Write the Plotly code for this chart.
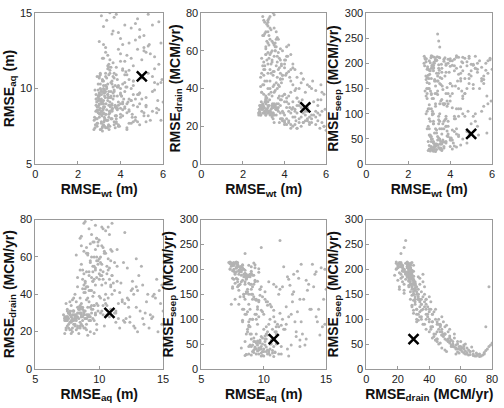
import plotly.graph_objects as go

# Ensemble of calibration runs (one value per run)
rmse_wt = [
 4.1,4.6,5.2,3.9,4.4,5.7,3.8,4.9,5.5,4.2,3.75,4.7,5.9,4.0,5.0,4.3,5.3,4.8,3.85,5.6,4.5,6.0,4.0,5.1,4.6,
 2.8,3.0,3.2,2.9,3.1,3.4,3.3,2.75,3.6,3.0,3.5,2.85,3.2,3.7,2.95,3.15,3.4,3.05,3.8,2.8,3.3,3.6,3.1,2.9,3.45,
 3.25,3.0,3.55,2.85,3.35,3.9,3.15,2.78,3.7,3.4,3.05,3.2,2.95,3.5,3.1,3.65,3.0,3.3,2.9,3.45,
 4.3,4.9,5.4,4.6,5.8,4.1,5.2,4.4,5.6,4.8,4.0,5.95,4.7,5.1,4.2,
 3.1,3.4,2.9,3.7,3.2,4.0,3.5,3.0,3.8,4.5,3.3,4.2,2.85,3.6,5.0,3.15,4.7,3.9,5.3,3.25,4.4,3.55,5.6,3.05,4.1,
 5.9,3.45,4.8,3.75,5.5,2.95,4.3,3.35,5.2,4.6,3.65,4.9,3.2,4.0,5.75,3.85,3.1,4.55,5.35,3.5,
 3.0,3.3,3.6,2.9,3.8,4.2,3.2,4.6,3.5,3.1,4.0,2.85,3.4,4.8,3.7,3.05,4.4,3.25,3.9,3.45,4.1,2.95,3.55,4.9,3.15,
 3.75,4.3,3.35,3.0,3.65,4.5,3.2,3.85,2.9,4.05,
 3.1,3.4,3.0,3.6,3.3,3.2,3.5,2.95,3.7,3.15,3.45,3.8,3.05,3.25,3.55,4.1,3.35,3.0,3.65,3.2,3.9,3.5,3.1,4.2,
 3.4,3.5,3.45,3.3,3.2,
 3.1,3.6,4.2,3.3,4.9,3.8,5.4,3.0,4.5,5.8,3.5,4.0,5.1,3.2,
 2.82,3.12,3.38,2.98,3.22,3.48,2.88,3.08,3.58,3.28,2.76,3.18,3.42,3.02,3.32,2.92,3.52,3.14,3.24,2.86,
 3.44,3.06,3.36,2.96,3.62,3.16,3.26,2.84,3.46,3.1,
 3.6,3.9,4.2,4.5,4.8,5.1,3.7,4.0,4.3,4.6,4.9,5.3,3.8,4.1,4.4,4.7,5.0,5.5,3.95,4.25,4.55,4.85,5.2,5.7,4.35,
 3.05,3.3,3.55,3.8,4.05,4.3,3.15,3.4,3.65,3.9,4.15,4.4,2.95,3.25,3.5,3.75,4.0,4.25,3.1,3.35,3.6,3.85,4.1,3.2,3.45,
 3.0,3.2,3.4,3.6,3.8,3.1,3.3,3.5,3.7,2.9,3.15,3.35,3.55,3.75,3.05,3.25,3.45,3.65,3.85,3.2,
 4.4,5.2,3.9,5.8,4.7,5.5,4.1,5.0,3.7,5.9,4.6,5.3,4.3,5.6,4.9,3.8,5.1,4.5,5.75,4.0,
]
rmse_aq = [
 8.2,7.8,8.9,7.5,9.3,8.4,8.0,7.6,9.8,8.7,7.4,8.1,7.9,9.0,8.5,7.3,12.8,14.6,8.6,10.4,7.7,9.1,8.3,13.5,9.6,
 7.4,8.1,7.6,8.8,9.2,7.9,8.3,7.3,8.6,9.7,7.5,8.0,9.0,7.8,8.4,7.2,9.4,8.7,8.2,9.9,7.4,10.3,8.5,7.7,8.9,
 7.5,10.8,8.0,9.3,7.9,9.1,8.3,8.1,7.6,11.5,7.3,8.8,9.5,8.4,7.8,9.7,8.6,12.4,7.5,8.1,
 8.4,9.0,7.9,10.2,8.6,11.3,9.4,7.7,12.1,8.8,9.6,10.6,13.2,8.2,10.9,
 8.5,9.2,8.0,9.8,10.5,8.7,11.2,9.0,7.8,10.0,8.3,11.8,9.6,8.9,10.7,12.0,9.3,10.2,11.0,7.9,13.0,9.5,9.9,10.9,8.6,
 10.4,11.6,12.6,8.2,14.2,9.4,9.0,10.1,8.8,11.5,13.8,9.7,8.4,12.3,9.2,10.6,7.7,8.1,12.9,9.1,
 9.5,10.2,9.0,10.8,11.4,9.8,8.7,10.5,11.9,9.3,10.0,8.9,12.2,9.6,10.7,11.0,8.5,9.9,12.6,8.3,11.2,10.3,9.4,13.4,10.6,
 8.8,10.9,14.5,9.7,11.7,9.2,12.9,10.1,8.6,9.5,
 9.0,10.3,9.6,8.5,10.8,9.2,11.0,8.8,9.9,10.5,9.4,8.2,10.0,9.7,11.4,9.1,8.6,10.7,9.3,12.0,10.1,8.9,9.8,10.4,
 11.3,8.5,9.8,11.0,10.2,
 14.8,13.6,14.2,12.7,13.9,14.9,12.3,13.1,12.0,14.4,15.0,13.3,12.5,14.1,
 7.6,8.2,7.4,8.9,7.8,8.5,9.1,7.3,8.0,9.4,7.9,8.6,7.5,8.3,9.0,7.7,8.8,7.4,8.1,9.3,
 7.6,8.4,7.9,9.2,8.7,7.5,8.0,8.5,7.3,9.6,
 8.0,7.6,8.8,9.2,7.8,8.4,9.5,8.1,7.4,8.9,9.7,8.2,7.7,9.0,8.6,7.9,9.3,8.5,7.5,10.1,8.3,9.6,7.8,8.7,9.1,
 9.2,9.8,10.4,8.7,9.5,10.1,9.0,9.6,10.8,8.9,9.3,10.6,9.9,8.8,9.4,10.2,9.7,11.1,9.1,10.0,8.6,9.5,10.3,9.8,10.9,
 9.3,10.0,9.6,10.5,8.8,9.9,10.2,9.4,11.0,8.5,9.1,10.7,9.8,8.9,10.3,9.5,11.4,10.1,8.7,9.7,
 11.2,12.4,13.7,11.6,14.3,10.8,12.9,11.9,14.7,13.0,10.5,14.9,12.2,11.3,13.4,10.9,12.7,14.0,10.3,11.8,
]
rmse_drain = [
 21,19,22,23,20,19,24,22,21,23,22,24,20,21,23,19,22,20,24,23,21,18,22,24,19,
 28,27,30,29,26,31,28,27,29,30,26,31,27,28,32,29,30,28,27,31,26,29,32,30,27,
 28,30,31,26,29,28,33,29,30,27,28,31,27,32,26,29,30,28,31,27,
 27,29,26,31,28,30,32,25,27,30,26,29,31,28,32,
 34,36,38,35,40,33,42,37,34,39,44,36,41,43,38,35,33,45,40,37,42,39,34,44,35,
 37,41,43,36,39,42,44,38,41,35,40,45,33,37,42,34,36,40,44,38,
 47,50,52,48,55,49,53,46,57,58,51,46,54,48,59,50,53,56,47,49,57,52,60,45,55,
 51,58,48,54,46,50,59,53,56,47,
 62,65,68,70,72,75,63,78,66,74,80,61,69,77,64,62,71,76,67,73,60,79,70,63,
 25,22,24,78,76,
 35,30,28,40,22,45,33,50,25,38,31,55,42,27,
 27,29,26,31,28,30,33,27,29,34,26,28,32,30,27,29,31,35,28,26,
 30,33,27,29,32,28,31,30,26,34,
 26,24,22,28,25,30,32,23,21,27,29,26,31,24,33,22,28,25,27,30,23,34,21,26,29,
 52,58,62,48,55,50,65,60,54,47,57,51,68,63,49,56,53,46,61,59,66,52,48,70,64,
 42,48,55,62,45,58,66,72,50,38,44,53,60,41,75,68,47,57,43,64,
 30,25,36,22,40,28,33,26,42,20,35,24,38,31,27,45,23,29,34,37,
]
rmse_seep = [
 205,212,190,208,178,200,196,214,165,185,211,170,207,160,198,215,182,203,152,175,193,188,209,158,201,
 210,205,196,188,213,175,208,200,182,160,211,168,192,204,150,214,138,185,199,145,206,128,110,172,190,
 212,118,158,203,180,140,98,195,208,165,201,130,176,120,215,148,186,155,162,197,
 190,170,205,135,180,112,100,212,168,150,194,125,140,198,95,
 170,145,130,118,100,160,85,150,182,110,120,90,135,70,80,105,140,60,75,165,95,125,115,58,155,
 90,80,65,175,105,110,70,140,85,100,120,55,185,135,62,125,190,145,58,100,
 90,70,60,105,45,65,80,50,40,55,35,100,48,42,32,85,55,62,75,95,30,75,40,60,50,
 88,34,68,58,80,38,45,66,70,52,
 45,38,30,27,25,33,50,45,35,28,52,42,26,40,30,48,29,37,44,26,55,48,32,36,
 258,232,244,165,85,
 140,170,195,115,210,90,150,70,180,120,160,48,95,190,
 208,195,213,170,202,186,150,211,198,140,214,190,165,178,205,193,172,130,200,209,
 180,145,206,188,155,197,168,175,212,138,
 190,200,208,170,195,150,120,205,212,185,160,188,140,196,110,210,175,192,182,155,203,105,214,186,165,
 55,40,32,75,48,60,28,38,45,85,42,58,27,30,70,44,52,90,35,40,29,56,68,26,33,
 110,80,55,40,95,50,35,30,70,140,100,62,45,120,30,36,88,48,115,42,
 150,190,120,205,95,170,140,185,85,210,130,200,110,160,178,75,196,165,135,125,
]

# "True" parameter set marked with a cross
true_wt = [5.0]
true_aq = [10.8]
true_drain = [30]
true_seep = [60]

panels = [
    (rmse_wt, rmse_aq, true_wt, true_aq, "RMSE<sub>wt</sub> (m)", "RMSE<sub>aq</sub> (m)", [0, 6], [5, 15], [0, 2, 4, 6], [5, 10, 15]),
    (rmse_wt, rmse_drain, true_wt, true_drain, "RMSE<sub>wt</sub> (m)", "RMSE<sub>drain</sub> (MCM/yr)", [0, 6], [0, 80], [0, 2, 4, 6], [0, 20, 40, 60, 80]),
    (rmse_wt, rmse_seep, true_wt, true_seep, "RMSE<sub>wt</sub> (m)", "RMSE<sub>seep</sub> (MCM/yr)", [0, 6], [0, 300], [0, 2, 4, 6], [0, 50, 100, 150, 200, 250, 300]),
    (rmse_aq, rmse_drain, true_aq, true_drain, "RMSE<sub>aq</sub> (m)", "RMSE<sub>drain</sub> (MCM/yr)", [5, 15], [0, 80], [5, 10, 15], [0, 20, 40, 60, 80]),
    (rmse_aq, rmse_seep, true_aq, true_seep, "RMSE<sub>aq</sub> (m)", "RMSE<sub>seep</sub> (MCM/yr)", [5, 15], [0, 300], [5, 10, 15], [0, 50, 100, 150, 200, 250, 300]),
    (rmse_drain, rmse_seep, true_drain, true_seep, "RMSE<sub>drain</sub> (MCM/yr)", "RMSE<sub>seep</sub> (MCM/yr)", [0, 80], [0, 300], [0, 20, 40, 60, 80], [0, 50, 100, 150, 200, 250, 300]),
]

W, H = 504, 408
xdoms = [[33 / W, 163 / W], [202 / W, 329 / W], [370 / W, 498 / W]]
ydoms = [[1 - 163 / H, 1 - 7 / H], [1 - 374 / H, 1 - 220 / H]]

FONT = "Liberation Sans, Arial, sans-serif"
fig = go.Figure()
layout = {}
for i, (xd, yd, xt, yt, xl, yl, xr, yr, xtk, ytk) in enumerate(panels):
    n = i + 1
    xa = "x" if n == 1 else f"x{n}"
    ya = "y" if n == 1 else f"y{n}"
    fig.add_trace(go.Scatter(
        x=xd, y=yd, mode="markers", xaxis=xa, yaxis=ya, showlegend=False,
        marker=dict(size=3, color="#b3b3b3", line=dict(width=0)),
    ))
    fig.add_trace(go.Scatter(
        x=xt, y=yt, mode="markers", xaxis=xa, yaxis=ya, showlegend=False,
        marker=dict(symbol="x-thin", size=10, color="black", line=dict(width=2.5, color="black")),
    ))
    row, col = divmod(i, 3)
    common = dict(
        showline=True, mirror=True, linecolor="#999999", linewidth=1,
        ticks="inside", ticklen=3, tickcolor="#999999", showgrid=False, zeroline=False,
        tickfont=dict(family=FONT, size=11, color="#222222"),
        ticklabeloverflow="allow",
        fixedrange=True,
    )
    layout[f"xaxis{'' if n == 1 else n}"] = dict(
        common, domain=xdoms[col], range=xr, tickvals=xtk, anchor=ya,
        title=dict(text=f"<b>{xl}</b>", standoff=4, font=dict(family=FONT, size=14, color="#111111")),
    )
    layout[f"yaxis{'' if n == 1 else n}"] = dict(
        common, domain=ydoms[row], range=yr, tickvals=ytk, anchor=xa,
        title=dict(text=f"<b>{yl}</b>", standoff=2, font=dict(family=FONT, size=14, color="#111111")),
    )

fig.update_layout(
    width=W, height=H, margin=dict(l=0, r=0, t=0, b=0),
    paper_bgcolor="white", plot_bgcolor="white",
    **layout,
)
fig.write_html("out.html")
